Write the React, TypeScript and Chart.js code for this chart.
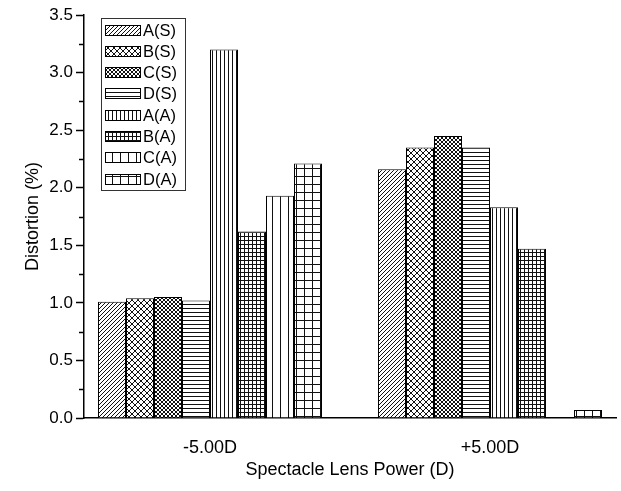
import React, { useEffect, useRef } from 'react';
import { Chart, registerables } from 'chart.js';

Chart.register(...registerables);

// ---- data ----
const categories = ['-5.00D', '+5.00D'];
const categoryX = [-1, 1];
const seriesLabels = ['A(S)', 'B(S)', 'C(S)', 'D(S)', 'A(A)', 'B(A)', 'C(A)', 'D(A)'];
const aS = [1.01, 2.16];
const bS = [1.04, 2.35];
const cS = [1.05, 2.45];
const dS = [1.02, 2.35];
const aA = [3.2, 1.83];
const bA = [1.62, 1.47];
const cA = [1.93, 0];
const dA = [2.21, 0.07];
const seriesValues = [aS, bS, cS, dS, aA, bA, cA, dA];
const patternKinds = ['diag', 'xhatch6', 'xhatch4', 'hline4', 'vline4', 'grid4', 'vline8', 'grid8'];
const yMin = 0;
const yMax = 3.5;
const yStep = 0.5;

const FONT = "'Liberation Sans', Arial, sans-serif";
const INK = '#111';

function makePattern(kind: string): CanvasPattern {
  let s = 4;
  if (kind === 'xhatch6') s = 6;
  if (kind === 'vline8' || kind === 'grid8') s = 8;
  const c = document.createElement('canvas');
  c.width = s;
  c.height = s;
  const g = c.getContext('2d')!;
  g.fillStyle = '#fff';
  g.fillRect(0, 0, s, s);
  g.strokeStyle = INK;
  g.lineWidth = 1;
  const slash = () => {
    g.beginPath();
    g.moveTo(-1, s + 1); g.lineTo(s + 1, -1);
    g.moveTo(-1, 1); g.lineTo(1, -1);
    g.moveTo(s - 1, s + 1); g.lineTo(s + 1, s - 1);
    g.stroke();
  };
  const back = () => {
    g.beginPath();
    g.moveTo(-1, -1); g.lineTo(s + 1, s + 1);
    g.moveTo(s - 1, -1); g.lineTo(s + 1, 1);
    g.moveTo(-1, s - 1); g.lineTo(1, s + 1);
    g.stroke();
  };
  const h = () => {
    g.beginPath(); g.moveTo(0, 0.5); g.lineTo(s, 0.5); g.stroke();
  };
  const v = () => {
    g.beginPath(); g.moveTo(0.5, 0); g.lineTo(0.5, s); g.stroke();
  };
  if (kind === 'diag') slash();
  if (kind === 'xhatch6' || kind === 'xhatch4') { slash(); back(); }
  if (kind === 'hline4') h();
  if (kind === 'vline4' || kind === 'vline8') v();
  if (kind === 'grid4' || kind === 'grid8') { h(); v(); }
  return g.createPattern(c, 'repeat')!;
}

export default function App() {
  const ref = useRef<HTMLCanvasElement | null>(null);

  useEffect(() => {
    if (!ref.current) return;
    const patterns = patternKinds.map(makePattern);

    const minorTicks = {
      id: 'minorTicks',
      afterDraw(chart: any) {
        const ys = chart.scales.y;
        const ctx = chart.ctx;
        const x0 = chart.chartArea.left;
        ctx.save();
        ctx.strokeStyle = '#000';
        ctx.lineWidth = 1.5;
        for (let v = yMin + yStep / 2; v < yMax; v += yStep) {
          const py = Math.round(ys.getPixelForValue(v)) + 0.5;
          ctx.beginPath();
          ctx.moveTo(x0 - 5, py);
          ctx.lineTo(x0, py);
          ctx.stroke();
        }
        ctx.restore();
      },
    };

    const boxLegend = {
      id: 'boxLegend',
      afterDraw(chart: any) {
        const ctx = chart.ctx;
        const left = chart.chartArea.left + 17;
        const top = chart.chartArea.top + 3;
        const w = 84;
        const rowH = 21.3;
        const h = 172;
        ctx.save();
        ctx.fillStyle = '#fff';
        ctx.fillRect(left, top, w, h);
        ctx.strokeStyle = '#333';
        ctx.lineWidth = 1;
        ctx.strokeRect(left + 0.5, top + 0.5, w, h);
        ctx.font = `16.5px ${FONT}`;
        ctx.textBaseline = 'middle';
        ctx.textAlign = 'left';
        chart.data.datasets.forEach((ds: any, i: number) => {
          const cy = top + 12 + i * rowH;
          const sx = left + 4;
          const sw = 36;
          const sh = 11;
          const sy = Math.round(cy - sh / 2);
          ctx.fillStyle = patterns[i];
          ctx.fillRect(sx, sy, sw, sh);
          ctx.strokeStyle = '#000';
          ctx.lineWidth = 1;
          ctx.strokeRect(sx + 0.5, sy + 0.5, sw - 1, sh - 1);
          ctx.fillStyle = '#000';
          ctx.fillText(ds.label, left + 42, cy + 1);
        });
        ctx.restore();
      },
    };

    const chart = new Chart(ref.current, {
      type: 'bar',
      data: {
        datasets: seriesLabels.map((label, i) => ({
          label,
          data: categoryX.map((x, j) => ({ x, y: seriesValues[i][j] })),
          backgroundColor: patterns[i],
          borderColor: '#000',
          borderWidth: 1,
          barPercentage: 1,
          categoryPercentage: 0.8,
        })),
      },
      options: {
        responsive: false,
        animation: false,
        devicePixelRatio: 1,
        layout: { padding: { top: 15, right: 5, left: 0, bottom: 0 } },
        plugins: {
          legend: { display: false },
          tooltip: { enabled: false },
        },
        scales: {
          x: {
            type: 'linear',
            offset: false,
            min: -1.9,
            max: 1.9,
            afterBuildTicks: (s: any) => {
              s.ticks = categoryX.map((value) => ({ value }));
            },
            afterFit: (s: any) => {
              s.height = 73;
            },
            ticks: {
              callback: (_v: any, i: number) => categories[i],
              color: '#000',
              font: { family: FONT, size: 18 },
              padding: 19,
              maxRotation: 0,
              autoSkip: false,
            },
            grid: { offset: false, drawOnChartArea: false, drawTicks: false },
            border: { display: true, color: '#000', width: 1.5 },
            title: {
              display: true,
              text: 'Spectacle Lens Power (D)',
              color: '#000',
              font: { family: FONT, size: 18 },
              padding: { top: 0, bottom: 10 },
            },
          },
          y: {
            type: 'linear',
            min: yMin,
            max: yMax,
            afterFit: (s: any) => {
              s.width = 84;
            },
            ticks: {
              stepSize: yStep,
              callback: (v: any) => Number(v).toFixed(1),
              color: '#000',
              font: { family: FONT, size: 17 },
              padding: 3,
            },
            grid: {
              drawOnChartArea: false,
              drawTicks: true,
              tickLength: 8,
              tickColor: '#000',
              tickWidth: 1.5,
            },
            border: { display: true, color: '#000', width: 1.5 },
            title: {
              display: true,
              text: 'Distortion (%)',
              color: '#000',
              font: { family: FONT, size: 18 },
              padding: { top: 22, bottom: 0 },
            },
          },
        },
      },
      plugins: [minorTicks, boxLegend],
    } as any);

    return () => chart.destroy();
  }, []);

  return (
    <div style={{ position: 'fixed', left: 0, top: 0, width: 621, height: 491, background: '#fff' }}>
      <canvas ref={ref} width={621} height={491} style={{ display: 'block' }} />
    </div>
  );
}
